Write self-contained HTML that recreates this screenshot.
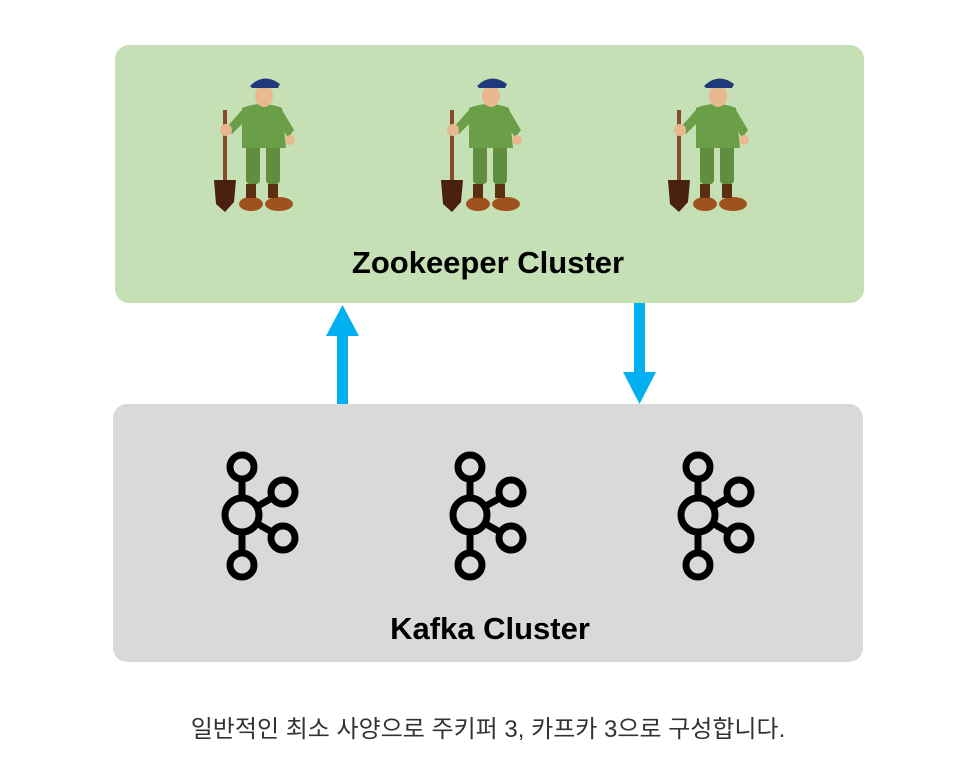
<!DOCTYPE html>
<html><head><meta charset="utf-8"><style>
body{margin:0;width:962px;height:778px;background:#fff;overflow:hidden;font-family:"Liberation Sans",sans-serif}
</style></head><body>
<svg width="962" height="778" viewBox="0 0 962 778" xmlns="http://www.w3.org/2000/svg">
<defs>
<g id="zk">
 <rect x="-39" y="30" width="4" height="75" fill="#8a4a2a"/>
 <path d="M-48 100 L-26 100 L-28 122 L-37 132 L-46 124 Z" fill="#4a2010"/>
 <rect x="-16" y="62" width="14" height="42" rx="4" fill="#5f8f3e"/>
 <rect x="4" y="62" width="14" height="42" rx="4" fill="#5f8f3e"/>
 <ellipse cx="-11" cy="124" rx="12" ry="7" fill="#a0521e"/>
 <ellipse cx="17" cy="124" rx="14" ry="7" fill="#a0521e"/>
 <rect x="-16" y="104" width="10" height="14" fill="#5a3010"/>
 <rect x="6" y="104" width="10" height="14" fill="#5a3010"/>
 <path d="M-20 28 Q0 20 20 28 L24 68 L-20 68 Z" fill="#6a9e47"/>
 <path d="M-20 30 L-36 48 L-30 54 L-18 42 Z" fill="#6a9e47"/>
 <path d="M20 30 L32 50 L26 58 L18 44 Z" fill="#6a9e47"/>
 <circle cx="-36" cy="50" r="6" fill="#e8b890"/>
 <circle cx="28" cy="60" r="5" fill="#e8b890"/>
 <ellipse cx="2" cy="16" rx="9" ry="11" fill="#e8b890"/>
 <path d="M-12 6 Q2 -8 18 4 L16 8 L-10 8 Z" fill="#1e3a7a"/>
</g>
<g id="kf" fill="none" stroke="#000" stroke-width="7">
 <circle cx="0" cy="-48" r="12"/>
 <circle cx="0" cy="0" r="17"/>
 <circle cx="41" cy="-23" r="12"/>
 <circle cx="41" cy="23" r="12"/>
 <circle cx="0" cy="50" r="12"/>
 <line x1="0" y1="-36" x2="0" y2="-17"/>
 <line x1="0" y1="17" x2="0" y2="38"/>
 <line x1="14" y1="-8" x2="30" y2="-17"/>
 <line x1="14" y1="8" x2="30" y2="17"/>
</g>
</defs>
<rect x="115" y="45" width="749" height="258" rx="14" fill="#c5e0b4"/>
<use href="#zk" x="262" y="80"/>
<use href="#zk" x="489" y="80"/>
<use href="#zk" x="716" y="80"/>
<text x="488" y="273" text-anchor="middle" font-family="Liberation Sans" font-weight="bold" font-size="31" fill="#000">Zookeeper Cluster</text>
<rect x="113" y="404" width="750" height="258" rx="14" fill="#d9d9d9"/>
<use href="#kf" x="242" y="515"/>
<use href="#kf" x="470" y="515"/>
<use href="#kf" x="698" y="515"/>
<text x="490" y="639" text-anchor="middle" font-family="Liberation Sans" font-weight="bold" font-size="31" fill="#000">Kafka Cluster</text>
<rect x="337" y="335" width="11" height="69" fill="#00b0f0"/>
<polygon points="326,336 359,336 342.5,305" fill="#00b0f0"/>
<rect x="634" y="303" width="11" height="70" fill="#00b0f0"/>
<polygon points="623,372 656,372 639.5,404" fill="#00b0f0"/>
<text x="488" y="737" text-anchor="middle" font-family="Liberation Sans, Noto Sans CJK KR, sans-serif" font-size="24" fill="#333">일반적인 최소 사양으로 주키퍼 3, 카프카 3으로 구성합니다.</text>
</svg>
</body></html>
